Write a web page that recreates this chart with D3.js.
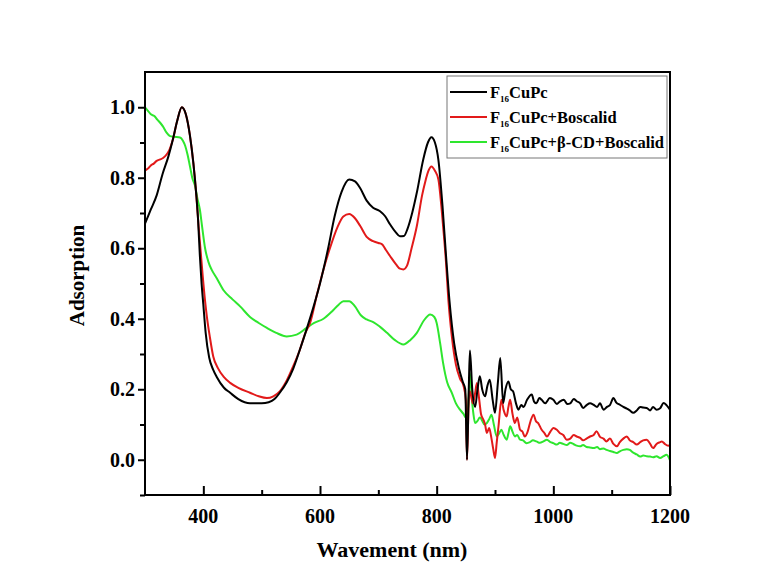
<!DOCTYPE html>
<html>
<head>
<meta charset="utf-8">
<script src="https://cdn.jsdelivr.net/npm/d3@7"></script>
<style>
  body { margin: 0; background: #fff; }
  text { font-family: "Liberation Serif", "Times New Roman", serif; font-weight: bold; }
</style>
</head>
<body>
<div id="chart"></div>
<script>
// spectra, [wavelength nm, adsorption]
let blackData = [[300,0.67],[310,0.71],[320,0.75],[330,0.81],[340,0.86],[348,0.91],[355,0.96],[363,1.0],[370,0.98],[377,0.92],[383,0.84],[388,0.75],[391,0.68],[394,0.58],[397,0.50],[400,0.44],[404,0.36],[410,0.29],[417,0.255],[423,0.235],[435,0.205],[446,0.19],[460,0.172],[480,0.16],[500,0.16],[512,0.163],[522,0.172],[531,0.19],[543,0.22],[554,0.258],[565,0.31],[577,0.37],[590,0.44],[600,0.50],[614,0.60],[625,0.69],[637,0.76],[650,0.795],[660,0.79],[669,0.77],[680,0.735],[691,0.715],[703,0.705],[712,0.69],[720,0.668],[730,0.645],[737,0.634],[744,0.635],[750,0.655],[758,0.70],[766,0.758],[777,0.852],[785,0.9],[791,0.915],[797,0.9],[803,0.85],[810,0.72],[816,0.58],[822,0.45],[830,0.33],[838,0.26],[845,0.22],[849,0.2],[852,0.0],[855,0.2],[857,0.31],[861,0.2],[866,0.15],[870,0.2],[874,0.237],[878,0.2],[883,0.18],[887,0.21],[891,0.227],[896,0.17],[900,0.133],[905,0.22],[909,0.289],[914,0.161],[918,0.2],[923,0.222],[927,0.2],[931,0.194],[936,0.16],[940,0.142],[945,0.155],[949,0.15],[955,0.17],[963,0.185],[967,0.165],[971,0.16],[976,0.175],[980,0.17],[986,0.16],[994,0.175],[1000,0.17],[1006,0.158],[1011,0.165],[1018,0.17],[1024,0.158],[1029,0.16],[1035,0.172],[1040,0.166],[1046,0.16],[1051,0.147],[1057,0.155],[1063,0.16],[1069,0.156],[1075,0.15],[1080,0.16],[1086,0.142],[1092,0.15],[1097,0.155],[1103,0.175],[1108,0.162],[1114,0.156],[1120,0.15],[1126,0.145],[1131,0.14],[1137,0.133],[1143,0.14],[1149,0.15],[1154,0.148],[1160,0.147],[1166,0.14],[1171,0.15],[1177,0.142],[1183,0.146],[1189,0.161],[1194,0.155],[1200,0.142]]

let redData = [[300,0.82],[305,0.826],[310,0.835],[315,0.84],[320,0.848],[326,0.852],[331,0.856],[337,0.866],[342,0.88],[348,0.91],[355,0.96],[363,1.0],[370,0.98],[377,0.92],[383,0.84],[388,0.75],[392,0.66],[395,0.6],[399,0.52],[403,0.45],[406,0.407],[411,0.35],[417,0.293],[425,0.26],[435,0.235],[446,0.218],[460,0.204],[480,0.19],[495,0.18],[509,0.175],[520,0.18],[531,0.194],[543,0.225],[554,0.265],[565,0.31],[575,0.36],[583,0.388],[595,0.47],[606,0.54],[617,0.6],[630,0.66],[640,0.69],[650,0.697],[660,0.685],[669,0.663],[680,0.632],[691,0.62],[700,0.615],[706,0.612],[713,0.595],[720,0.578],[730,0.555],[737,0.542],[743,0.54],[749,0.55],[757,0.6],[766,0.663],[775,0.75],[780,0.786],[786,0.82],[791,0.832],[797,0.82],[803,0.795],[808,0.72],[811,0.663],[816,0.56],[820,0.455],[826,0.35],[833,0.27],[840,0.23],[846,0.21],[850,0.17],[852,0.0],[855,0.17],[857,0.194],[862,0.16],[866,0.19],[869,0.218],[873,0.17],[876,0.13],[880,0.114],[883,0.1],[886,0.076],[890,0.09],[894,0.06],[897,0.03],[900,0.005],[903,0.05],[906,0.095],[911,0.17],[915,0.14],[920,0.123],[923,0.15],[926,0.17],[930,0.13],[934,0.104],[938,0.12],[943,0.085],[947,0.08],[951,0.066],[956,0.08],[961,0.11],[966,0.128],[970,0.11],[974,0.104],[980,0.085],[985,0.075],[989,0.066],[995,0.08],[1000,0.09],[1006,0.085],[1011,0.076],[1017,0.07],[1023,0.057],[1029,0.06],[1035,0.07],[1040,0.066],[1046,0.062],[1051,0.055],[1057,0.06],[1063,0.066],[1069,0.07],[1074,0.081],[1080,0.065],[1086,0.06],[1091,0.052],[1097,0.06],[1103,0.045],[1109,0.038],[1114,0.05],[1120,0.06],[1126,0.066],[1131,0.055],[1137,0.05],[1143,0.043],[1149,0.05],[1154,0.055],[1160,0.057],[1166,0.045],[1171,0.033],[1177,0.045],[1183,0.05],[1186,0.052],[1191,0.045],[1197,0.04],[1200,0.042]]

let greenData = [[300,1.0],[305,0.99],[310,0.98],[316,0.975],[321,0.965],[326,0.956],[331,0.945],[337,0.928],[343,0.918],[350,0.916],[360,0.914],[365,0.905],[369,0.89],[373,0.865],[377,0.833],[381,0.8],[386,0.776],[390,0.74],[394,0.71],[398,0.66],[403,0.6],[409,0.56],[414,0.54],[423,0.515],[435,0.48],[450,0.455],[463,0.435],[480,0.405],[495,0.388],[509,0.374],[525,0.36],[543,0.35],[560,0.355],[577,0.374],[590,0.388],[606,0.40],[620,0.42],[632,0.44],[640,0.45],[650,0.45],[660,0.435],[670,0.41],[680,0.398],[692,0.39],[703,0.377],[715,0.36],[728,0.34],[743,0.327],[755,0.34],[766,0.36],[778,0.395],[789,0.412],[796,0.405],[800,0.388],[806,0.33],[811,0.275],[818,0.22],[826,0.19],[833,0.16],[840,0.142],[846,0.13],[850,0.12],[854,0.15],[857,0.246],[860,0.18],[863,0.13],[866,0.104],[870,0.11],[874,0.12],[877,0.114],[882,0.1],[886,0.104],[890,0.115],[894,0.128],[898,0.1],[903,0.066],[907,0.075],[911,0.085],[915,0.07],[920,0.057],[923,0.075],[926,0.095],[930,0.08],[934,0.066],[938,0.07],[943,0.057],[948,0.055],[954,0.047],[960,0.05],[965,0.055],[971,0.052],[977,0.048],[983,0.052],[989,0.057],[995,0.05],[1000,0.047],[1006,0.043],[1011,0.048],[1017,0.045],[1023,0.042],[1029,0.048],[1035,0.044],[1040,0.04],[1046,0.038],[1051,0.042],[1057,0.036],[1063,0.035],[1069,0.033],[1075,0.036],[1080,0.03],[1086,0.032],[1091,0.028],[1097,0.025],[1103,0.022],[1109,0.019],[1114,0.024],[1120,0.028],[1126,0.03],[1131,0.028],[1137,0.02],[1143,0.015],[1149,0.009],[1154,0.012],[1160,0.01],[1166,0.009],[1171,0.007],[1177,0.01],[1183,0.005],[1189,0.01],[1194,0.014],[1200,-0.002]]

let seriesNames = ["F16CuPc", "F16CuPc+Boscalid", "F16CuPc+β-CD+Boscalid"]
let seriesColors = ["#000000", "#e21a1a", "#2ee62e"]
let xTicks = [400, 600, 800, 1000, 1200]
let xMinorTicks = [500, 700, 900, 1100]
let yTicks = [0.0, 0.2, 0.4, 0.6, 0.8, 1.0]
let yMinorTicks = [-0.1, 0.1, 0.3, 0.5, 0.7, 0.9]

let width = 761
let height = 585
let plotLeft = 145, plotRight = 670, plotTop = 72, plotBottom = 495

let svg = d3.select("#chart")
  .append("svg")
  .attr("width", width)
  .attr("height", height)

svg.append("rect")
  .attr("width", width)
  .attr("height", height)
  .attr("fill", "#fff")

let x = d3.scaleLinear().domain([300, 1200]).range([plotLeft, plotRight])
let y = d3.scaleLinear().domain([-0.1, 1.1]).range([plotBottom, plotTop])

// clip so nothing runs out of the frame
svg.append("clipPath").attr("id", "clip")
  .append("rect")
  .attr("x", plotLeft).attr("y", plotTop)
  .attr("width", plotRight - plotLeft).attr("height", plotBottom - plotTop)

let line = d3.line()
  .x(d => x(d[0]))
  .y(d => y(d[1]))
  .curve(d3.curveMonotoneX)

let allData = [blackData, redData, greenData]
// draw green first so black sits on top
let order = [2, 1, 0]
order.forEach(i => {
  svg.append("path")
    .datum(allData[i])
    .attr("clip-path", "url(#clip)")
    .attr("fill", "none")
    .attr("stroke", seriesColors[i])
    .attr("stroke-width", 2)
    .attr("stroke-linejoin", "round")
    .attr("d", line)
})

// x axis: ticks pointing inside
let xAxis = svg.append("g")
  .attr("transform", "translate(0," + plotBottom + ")")
  .call(d3.axisTop(x).tickValues(xTicks).tickSize(9).tickFormat(""))
xAxis.select(".domain").remove()
xAxis.selectAll("line").attr("stroke-width", 2)

let xMinor = svg.append("g")
  .attr("transform", "translate(0," + plotBottom + ")")
  .call(d3.axisTop(x).tickValues(xMinorTicks).tickSize(5).tickFormat(""))
xMinor.select(".domain").remove()
xMinor.selectAll("line").attr("stroke-width", 2)

svg.selectAll(".xlabel")
  .data(xTicks)
  .enter()
  .append("text")
  .attr("x", d => x(d))
  .attr("y", 523)
  .attr("text-anchor", "middle")
  .style("font-size", "20px")
  .text(d => d)

// y axis: ticks pointing outside
let yAxis = svg.append("g")
  .attr("transform", "translate(" + plotLeft + ",0)")
  .call(d3.axisLeft(y).tickValues(yTicks).tickSize(7).tickFormat(d3.format(".1f")).tickPadding(3))
yAxis.select(".domain").remove()
yAxis.selectAll("line").attr("stroke-width", 2)
yAxis.selectAll("text")
  .style("font-size", "20px")
  .style("font-family", "Liberation Serif, serif")
  .style("font-weight", "bold")
  .attr("fill", "#000")

let yMinor = svg.append("g")
  .attr("transform", "translate(" + plotLeft + ",0)")
  .call(d3.axisLeft(y).tickValues(yMinorTicks).tickSize(5).tickFormat(""))
yMinor.select(".domain").remove()
yMinor.selectAll("line").attr("stroke-width", 2)

// frame
svg.append("rect")
  .attr("x", plotLeft)
  .attr("y", plotTop)
  .attr("width", plotRight - plotLeft)
  .attr("height", plotBottom - plotTop)
  .attr("fill", "none")
  .attr("stroke", "#000")
  .attr("stroke-width", 2)

// axis titles
svg.append("text")
  .attr("x", 392)
  .attr("y", 557)
  .attr("text-anchor", "middle")
  .style("font-size", "22px")
  .text("Wavement (nm)")

svg.append("text")
  .attr("transform", "translate(84," + ((plotTop + plotBottom) / 2 - 8) + ") rotate(-90)")
  .attr("text-anchor", "middle")
  .style("font-size", "21px")
  .text("Adsorption")

// legend
let legend = svg.append("g")
legend.append("rect")
  .attr("x", 447)
  .attr("y", 76)
  .attr("width", 220)
  .attr("height", 82)
  .attr("fill", "#fff")
  .attr("stroke", "#777")
  .attr("stroke-width", 1)

seriesNames.forEach((name, i) => {
  let ly = 92 + i * 25
  legend.append("line")
    .attr("x1", 450).attr("x2", 487)
    .attr("y1", ly).attr("y2", ly)
    .attr("stroke", seriesColors[i])
    .attr("stroke-width", 2)
  let t = legend.append("text")
    .attr("x", 490)
    .attr("y", ly + 6)
    .style("font-size", "16.5px")
  t.append("tspan").text("F")
  t.append("tspan").attr("dy", 4).style("font-size", "9px").text("16")
  t.append("tspan").attr("dy", -4).text(name.slice(3))
})
</script>
</body>
</html>
